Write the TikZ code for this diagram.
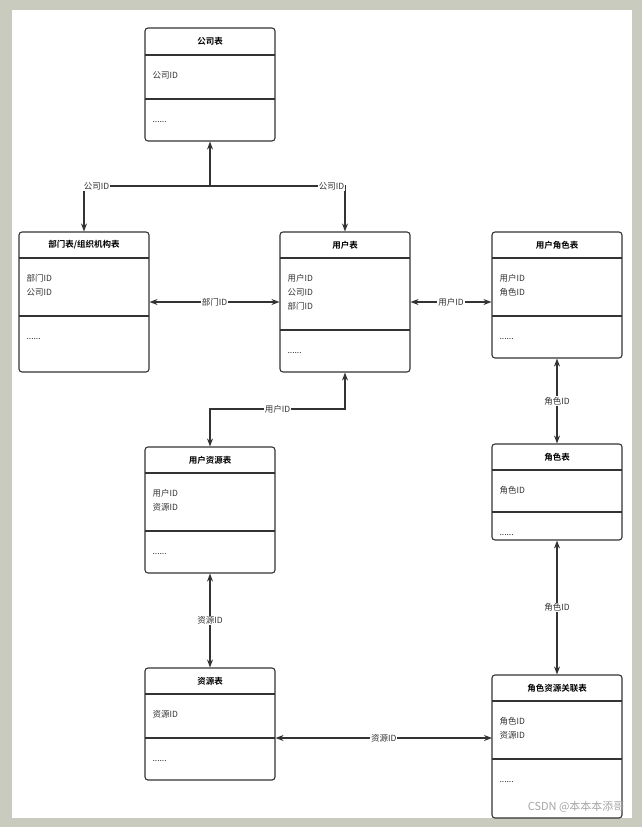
\documentclass[tikz,border=0pt]{standalone}
\usepackage{fontspec}
\setmainfont{Noto Sans CJK SC}[BoldFont={* Bold}]
\usetikzlibrary{arrows.meta}
\definecolor{frame}{RGB}{200,203,190}
\definecolor{ink}{RGB}{51,51,51}
\newcommand\dbtable[9]{%
  \node[tbl, minimum width={#4pt-#2pt}, minimum height={#5pt-#3pt}] (#1) at ({(#2+#4)/2},{(#3+#5)/2}) {};
  \draw[ink, line width=1.1pt] (#2,#6) -- (#4,#6);
  \draw[ink, line width=1.1pt] (#2,#7) -- (#4,#7);
  \node[font=\fontsize{8.5}{10}\selectfont\bfseries] (#1-t) at ({(#2+#4)/2},{(#3+#6)/2}) {#8};
  \node[fld, anchor=north west] (#1-f) at (#2+4,#6+13) {#9};
  \node[fld, anchor=west] (#1-d) at (#2+4,#7+23) {......};
}
\begin{document}
\begin{tikzpicture}[x=1pt, y=-1pt,
    tbl/.style = {draw=ink, line width=1.1pt, rounded corners=3pt, rectangle, inner sep=0pt},
    fld/.style = {align=left, font=\fontsize{8.5}{14}\selectfont, text=ink},
    link/.style = {ink, line width=1.1pt},
    lbl/.style = {fill=white, font=\fontsize{8.5}{10}\selectfont, text=ink, inner sep=1pt}]
  \fill[frame] (0,0) rectangle (642,827);
  \fill[white] (12,10) rectangle (632,818);
  \useasboundingbox (0,0) rectangle (642,827);
  % tables
  \dbtable{comp}{145}{28}{275}{141}{55}{99}{公司表}{公司ID}
  \dbtable{dept}{19}{232}{149}{372}{258}{316}{部门表/组织机构表}{部门ID\\公司ID}
  \dbtable{user}{280}{232}{410}{372}{258}{330}{用户表}{用户ID\\公司ID\\部门ID}
  \dbtable{urole}{492}{232}{622}{358}{258}{316}{用户角色表}{用户ID\\角色ID}
  \dbtable{ures}{145}{447}{275}{573}{473}{531}{用户资源表}{用户ID\\资源ID}
  \dbtable{role}{492}{444}{622}{540}{470}{512}{角色表}{角色ID}
  \dbtable{res}{145}{668}{275}{780}{694}{738}{资源表}{资源ID}
  \dbtable{rres}{492}{675}{622}{818}{701}{759}{角色资源关联表}{角色ID\\资源ID}
  % connectors
  \coordinate (cj) at (210,186);
  \draw[link, -{Stealth[length=8pt,width=6pt]}] (cj) -- (comp.south);
  \draw[link, -{Stealth[length=8pt,width=6pt]}] (cj) -| node[lbl, pos=0.45] {公司ID} (dept.north);
  \draw[link, -{Stealth[length=8pt,width=6pt]}] (cj) -| node[lbl, pos=0.45] {公司ID} (user.north);
  \draw[link, {Stealth[length=8pt,width=6pt]}-{Stealth[length=8pt,width=6pt]}] (dept.east) -- node[lbl] {部门ID} (user.west);
  \draw[link, {Stealth[length=8pt,width=6pt]}-{Stealth[length=8pt,width=6pt]}] (user.east) -- node[lbl] {用户ID} (urole.west |- user.east);
  \coordinate (uj) at (210,409);
  \draw[link, {Stealth[length=8pt,width=6pt]}-{Stealth[length=8pt,width=6pt]}] (ures.north) -- (uj) -| node[lbl, pos=0.25] {用户ID} (user.south);
  \draw[link, {Stealth[length=8pt,width=6pt]}-{Stealth[length=8pt,width=6pt]}] (urole.south) -- node[lbl] {角色ID} (role.north);
  \draw[link, {Stealth[length=8pt,width=6pt]}-{Stealth[length=8pt,width=6pt]}] (role.south) -- node[lbl] {角色ID} (rres.north);
  \draw[link, {Stealth[length=8pt,width=6pt]}-{Stealth[length=8pt,width=6pt]}] (ures.south) -- node[lbl] {资源ID} (res.north);
  \coordinate (rj) at (492,738);
  \draw[link, {Stealth[length=8pt,width=6pt]}-{Stealth[length=8pt,width=6pt]}] (res.east |- rj) -- node[lbl] {资源ID} (rj);
  % watermark
  \node[text=gray!70, font=\fontsize{11}{12}\selectfont, anchor=east] (wm) at (628,807) {CSDN @本本本添哥};
\end{tikzpicture}
\end{document}
